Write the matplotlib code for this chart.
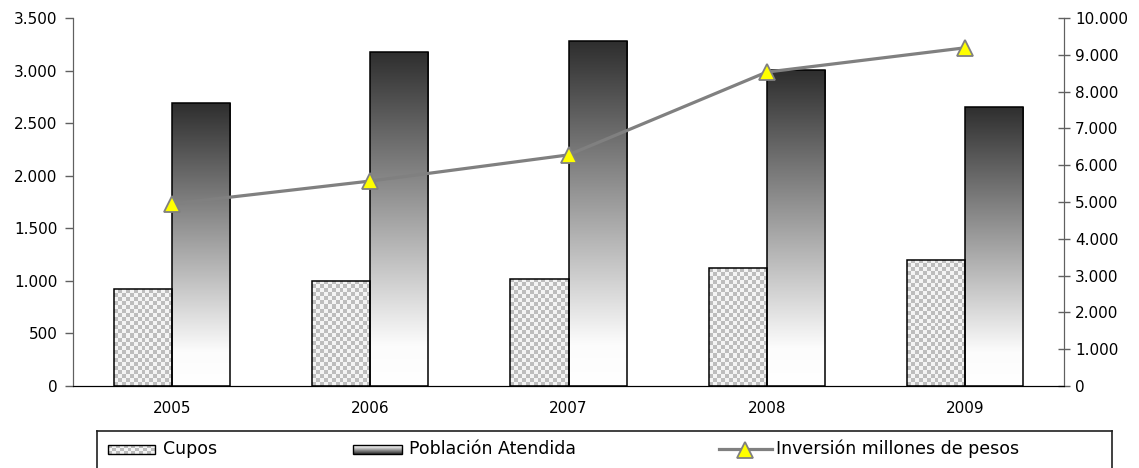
import numpy as np
import matplotlib
matplotlib.use("Agg")
import matplotlib.pyplot as plt
from matplotlib.patches import Rectangle
from matplotlib.lines import Line2D
from matplotlib.ticker import FuncFormatter

years = ["2005", "2006", "2007", "2008", "2009"]
cupos = [920, 1000, 1018, 1122, 1200]
poblacion = [2690, 3177, 3281, 3005, 2654]
inversion = [4950, 5570, 6280, 8530, 9190]
left_ticks = [0, 500, 1000, 1500, 2000, 2500, 3000, 3500]
right_ticks = list(range(0, 10001, 1000))
legend_labels = ["Cupos", "Población Atendida", "Inversión millones de pesos"]

plt.rcParams["font.family"] = ["DejaVu Sans"]

W, H = 1139, 468
fig = plt.figure(figsize=(W / 100, H / 100), dpi=100)
ax = fig.add_axes([73 / W, 1 - 386 / H, (1064 - 73) / W, (386 - 18) / H])
ax2 = ax.twinx()

x = np.arange(len(years))
bw = 0.293
ylim1 = (0, 3500)
ax.set_xlim(-0.5, len(years) - 0.5)
ax.set_ylim(*ylim1)


def fmt(v, pos):
    return f"{int(v):,}".replace(",", ".")


checker_cmap = matplotlib.colors.ListedColormap(["#bdbdbd", "#f4f4f4"])
px_per_unit = (386 - 18) / 3500
px_per_x = (1064 - 73) / 5
cell = 4.0
for xi, v in zip(x, cupos):
    x0 = xi - bw
    ncols = max(1, int(round(bw * px_per_x / cell)))
    nrows = max(1, int(round(v * px_per_unit / cell)))
    pat = (np.indices((nrows, ncols)).sum(axis=0) % 2).astype(float)
    rect = Rectangle((x0, 0), bw, v, facecolor="none", edgecolor="black", lw=1.1, zorder=3)
    ax.add_patch(rect)
    im = ax.imshow(pat, cmap=checker_cmap, extent=(x0, x0 + bw, 0, v), aspect="auto",
                   interpolation="none", origin="lower", zorder=2)
    im.set_clip_path(rect)

grad_cmap = matplotlib.colors.LinearSegmentedColormap.from_list(
    "g", [(0.0, "#ffffff"), (0.12, "#fcfcfc"), (1.0, "#2e2e2e")])
for xi, v in zip(x, poblacion):
    x0 = xi
    grad = np.linspace(0, 1, 256).reshape(-1, 1)
    rect = Rectangle((x0, 0), bw, v, facecolor="none", edgecolor="black", lw=1.1, zorder=3)
    ax.add_patch(rect)
    im = ax.imshow(grad, cmap=grad_cmap, extent=(x0, x0 + bw, 0, v), aspect="auto",
                   origin="lower", interpolation="bilinear", zorder=2)
    im.set_clip_path(rect)

ax.set_xlim(-0.5, len(years) - 0.5)
ax.set_ylim(*ylim1)
ax.set_xticks(x)
ax.set_xticklabels(years)
ax.set_yticks(left_ticks)
ax.yaxis.set_major_formatter(FuncFormatter(fmt))
ax.tick_params(axis="x", length=0, pad=11, labelsize=11)
ax.tick_params(axis="y", direction="out", length=6, width=1, color="#606060", labelsize=11, pad=5)

ax2.plot(x, inversion, color="#808080", lw=2.3, marker="^", markersize=11,
         markerfacecolor="#ffff00", markeredgecolor="#808080", markeredgewidth=1.3, zorder=5)
ax2.set_ylim(0, 10000)
ax2.set_yticks(right_ticks)
ax2.yaxis.set_major_formatter(FuncFormatter(fmt))
ax2.tick_params(axis="y", direction="inout", length=8, width=1, color="#606060", labelsize=11, pad=4)

for a in (ax, ax2):
    a.spines["top"].set_visible(False)
    a.spines["left"].set_color("#606060")
    a.spines["right"].set_color("#606060")
    a.spines["bottom"].set_color("black")
ax.set_zorder(1)
ax2.set_zorder(2)
ax2.patch.set_visible(False)

# legend box
lg = fig.add_axes([97 / W, -10 / H, (1112 - 97) / W, (468 + 10 - 431) / H])
lg.set_xticks([])
lg.set_yticks([])
for s in lg.spines.values():
    s.set_color("#202020")
    s.set_linewidth(1.2)

ly = 449
pr = Rectangle((108, ly - 4.5), 47, 9, facecolor="none", edgecolor="black", lw=1.0, zorder=3)
lg.add_patch(pr)
pat = (np.indices((3, 12)).sum(axis=0) % 2).astype(float)
im = lg.imshow(pat, cmap=checker_cmap, extent=(108, 155, ly + 4.5, ly - 4.5), aspect="auto",
               interpolation="none", zorder=2)
im.set_clip_path(pr)
lg.text(163, ly, legend_labels[0], va="center", ha="left", fontsize=12.5)

pr2 = Rectangle((353, ly - 4.5), 49, 9, facecolor="none", edgecolor="black", lw=1.0, zorder=3)
lg.add_patch(pr2)
im = lg.imshow(np.linspace(0, 1, 64).reshape(-1, 1), cmap=grad_cmap,
               extent=(353, 402, ly + 4.5, ly - 4.5), aspect="auto", origin="upper",
               interpolation="bilinear", zorder=2)
im.set_clip_path(pr2)
lg.text(409, ly, legend_labels[1], va="center", ha="left", fontsize=12.5)

lg.add_line(Line2D([719, 772], [ly, ly], color="#808080", lw=2.3))
lg.plot([745.5], [ly + 1], marker="^", markersize=11, markerfacecolor="#ffff00",
        markeredgecolor="#808080", markeredgewidth=1.3, linestyle="none")
lg.text(776, ly, legend_labels[2], va="center", ha="left", fontsize=12.5)
lg.set_xlim(97, 1112)
lg.set_ylim(468 + 10, 431)

fig.savefig("out.png", dpi=100)
